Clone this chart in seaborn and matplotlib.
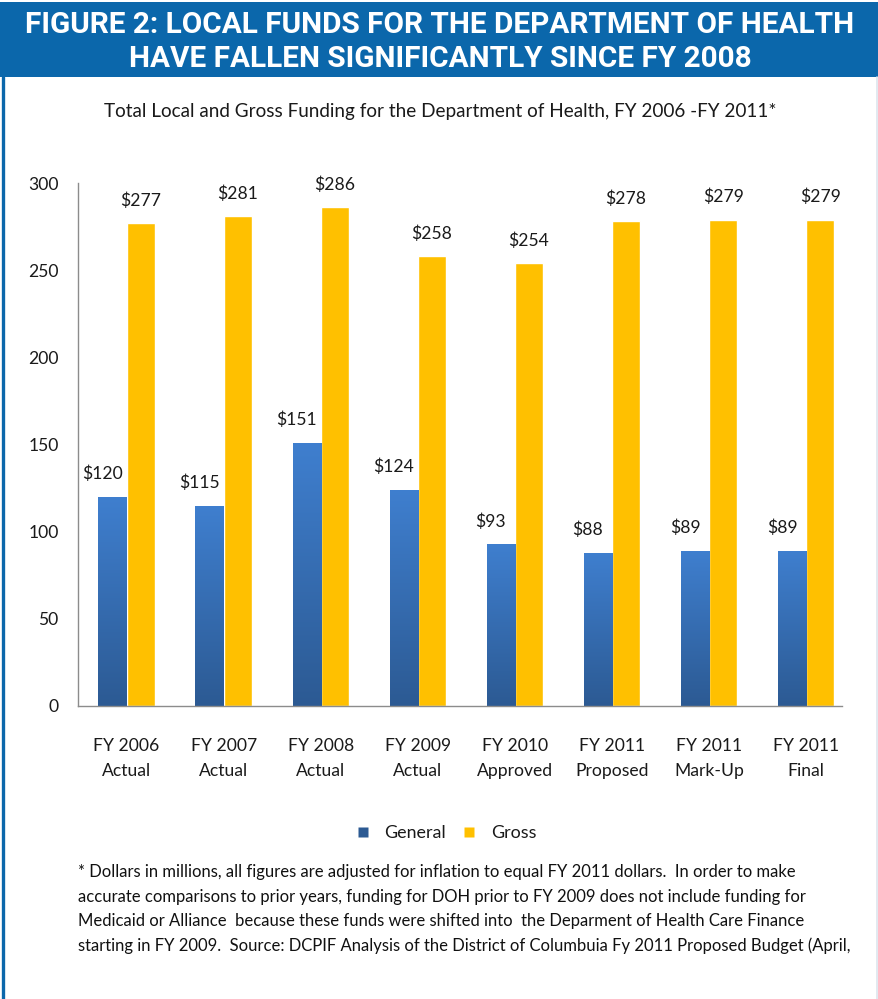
import numpy as np
import pandas as pd
import matplotlib
matplotlib.use("Agg")
import matplotlib.pyplot as plt
from matplotlib.patches import Rectangle
from matplotlib.lines import Line2D
from matplotlib.colors import LinearSegmentedColormap
import seaborn as sns

# ---- data (millions of FY 2011 dollars) ----
categories = ["FY 2006\nActual", "FY 2007\nActual", "FY 2008\nActual", "FY 2009\nActual",
              "FY 2010\nApproved", "FY 2011\nProposed", "FY 2011\nMark-Up", "FY 2011\nFinal"]
general = [120, 115, 151, 124, 93, 88, 89, 89]
gross = [277, 281, 286, 258, 254, 278, 279, 279]
series_names = ["General", "Gross"]
y_ticks = [0, 50, 100, 150, 200, 250, 300]

title_lines = ["FIGURE 2: LOCAL FUNDS FOR THE DEPARTMENT OF HEALTH",
               "HAVE FALLEN SIGNIFICANTLY SINCE FY 2008"]
subtitle = "Total Local and Gross Funding for the Department of Health, FY 2006 -FY 2011*"
footnote = [
    "* Dollars in millions, all figures are adjusted for inflation to equal FY 2011 dollars.  In order to make",
    "accurate comparisons to prior years, funding for DOH prior to FY 2009 does not include funding for",
    "Medicaid or Alliance  because these funds were shifted into  the Deparment of Health Care Finance",
    "starting in FY 2009.  Source: DCPIF Analysis of the District of Columbuia Fy 2011 Proposed Budget (April,",
]

df = pd.DataFrame({
    "category": categories * 2,
    "series": [series_names[0]] * len(categories) + [series_names[1]] * len(categories),
    "value": general + gross,
})

BLUE_TOP = "#3f7fcf"
BLUE_BOT = "#2c5a93"
GOLD = "#ffc000"
HEADER = "#0b67ab"
BODY_FONT = ["Lato", "DejaVu Sans"]

sns.set_theme(style="white")
plt.rcParams["font.family"] = BODY_FONT

W, H = 879, 999
fig = plt.figure(figsize=(W / 100, H / 100), dpi=100)


def fx(px):
    return px / W


def fy(py):
    return 1 - py / H


# header band and page border
fig.add_artist(Rectangle((0, fy(77)), 1, fy(2) - fy(77), transform=fig.transFigure,
                         facecolor=HEADER, edgecolor="none", zorder=0))
fig.add_artist(Line2D([fx(3.5), fx(3.5)], [0, fy(77)], transform=fig.transFigure,
                      color=HEADER, lw=2.4))
fig.add_artist(Line2D([fx(877.5), fx(877.5)], [0, fy(77)], transform=fig.transFigure,
                      color="#dde5ee", lw=1.2))

title_font = ["Roboto", "DejaVu Sans"]
for txt, yc in zip(title_lines, [25, 59]):
    fig.text(fx(440), fy(yc), txt, ha="center", va="center", color="white",
             fontsize=21.4, fontweight="bold", family=title_font)

fig.text(fx(440), fy(112), subtitle, ha="center", va="center", color="#1a1a1a",
         fontsize=13.6)

# ---- chart ----
cat_px = 97.1
ax_left, ax_right = 78, 842
ax = fig.add_axes([fx(ax_left), fy(706), fx(ax_right - ax_left), fy(183) - fy(706)])

sns.barplot(data=df, x="category", y="value", hue="series", palette=[BLUE_TOP, GOLD],
            width=0.58, saturation=1, ax=ax, legend=False, zorder=2)

ax.set_ylim(0, 300)
ax.set_xlim(-0.5, -0.5 + (ax_right - ax_left) / cat_px)
ax.set_yticks(y_ticks)
ax.set_yticklabels([str(t) for t in y_ticks], fontsize=12.6, color="#1a1a1a")
ax.set_xlabel("")
ax.set_ylabel("")
ax.set_xticks(range(len(categories)))
ax.set_xticklabels(categories, fontsize=12.6, color="#1a1a1a", linespacing=1.7)
ax.set_xticks(np.arange(-0.5, len(categories) - 1), minor=True)
ax.tick_params(axis="x", which="major", length=0, pad=23)
ax.tick_params(axis="x", which="minor", length=5, width=1, color="#8c8c8c", direction="out")
ax.tick_params(axis="y", which="major", length=5, width=1, color="#8c8c8c", direction="out", pad=9)
for side in ["top", "right"]:
    ax.spines[side].set_visible(False)
for side in ["left", "bottom"]:
    ax.spines[side].set_color("#8c8c8c")
    ax.spines[side].set_linewidth(1)
ax.grid(False)

# vertical gradient fill on the General bars
grad_cmap = LinearSegmentedColormap.from_list("gen", [BLUE_BOT, BLUE_TOP])
gradient = np.linspace(0, 1, 256).reshape(-1, 1)
gen_bars = ax.containers[0]
for patch in gen_bars.patches:
    x0, w, h = patch.get_x(), patch.get_width(), patch.get_height()
    im = ax.imshow(gradient, cmap=grad_cmap, origin="lower", aspect="auto",
                   extent=(x0, x0 + w, 0, h), zorder=2.5)
    im.set_clip_path(patch)
ax.set_xlim(-0.5, -0.5 + (ax_right - ax_left) / cat_px)
ax.set_ylim(0, 300)

# value labels above the bars
for container, dx in zip(ax.containers, [-10, 0]):
    for patch, val in zip(container.patches, container.datavalues):
        ax.annotate(f"${val:.0f}", (patch.get_x() + patch.get_width() / 2, patch.get_height()),
                    xytext=(dx * 0.72, 12.5), textcoords="offset points",
                    ha="center", va="baseline", fontsize=12.6, color="#1a1a1a", zorder=4)

# legend
handles = [Line2D([], [], marker="s", linestyle="none", markersize=6.5,
                  markerfacecolor=c, markeredgecolor="none") for c in [BLUE_BOT, GOLD]]
fig.legend(handles, series_names, loc="center", bbox_to_anchor=(fx(446), fy(833)),
           ncol=2, frameon=False, fontsize=12.9, handlelength=0.8, handletextpad=0.8,
           columnspacing=0.9, labelcolor="#1a1a1a")

# footnote
for i, line in enumerate(footnote):
    fig.text(fx(78), fy(872 + i * 24.6), line, ha="left", va="center", color="#111111",
             fontsize=12.0)

fig.savefig("out.png", dpi=100, facecolor="white")
